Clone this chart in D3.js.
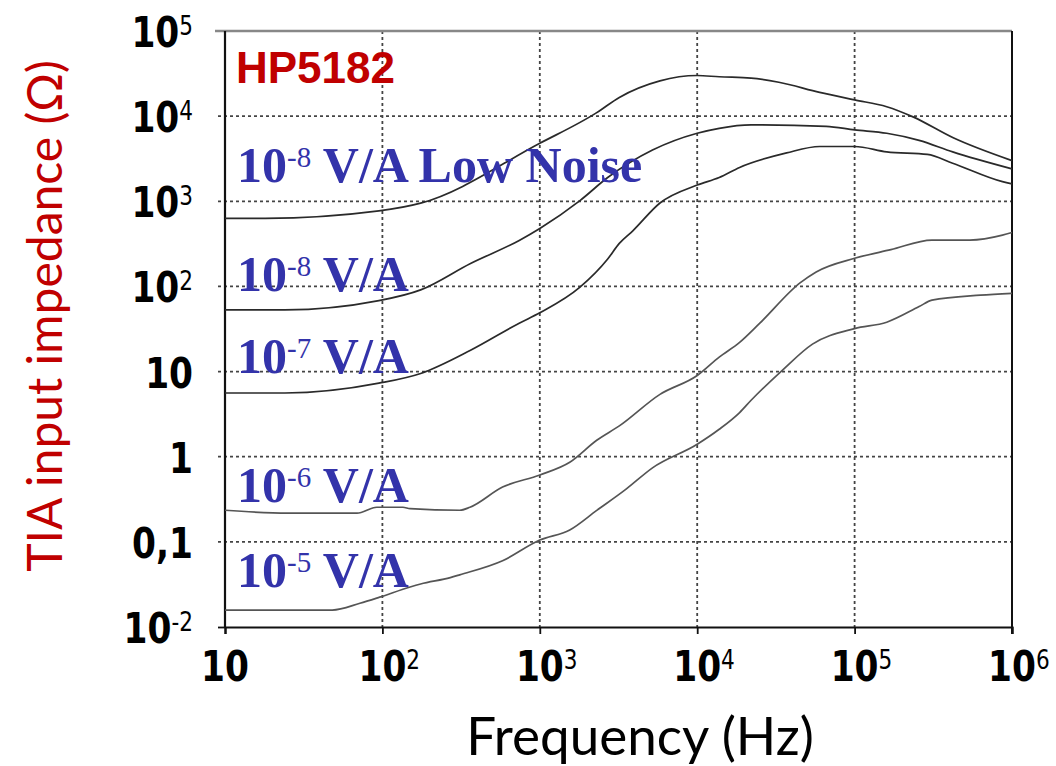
<!DOCTYPE html>
<html>
<head>
<meta charset="utf-8">
<script src="https://cdn.jsdelivr.net/npm/d3@7"></script>
<style>
  html, body { margin: 0; padding: 0; background: #fff; }
  svg { display: block; }
</style>
</head>
<body>
<svg id="chart" width="1056" height="766"></svg>
<script>
// ---------------- data ----------------
const xTickValues = [10, 100, 1000, 10000, 100000, 1000000];
const xTickBase = ["10", "10", "10", "10", "10", "10"];
const xTickExp = ["", "2", "3", "4", "5", "6"];

const yTickValues = [100000, 10000, 1000, 100, 10, 1, 0.1, 0.01];
const yTickBase = ["10", "10", "10", "10", "10", "1", "0,1", "10"];
const yTickExp = ["5", "4", "3", "2", "", "", "", "-2"];

const seriesNames = ["10-8 V/A Low Noise", "10-8 V/A", "10-7 V/A", "10-6 V/A", "10-5 V/A"];
const labelBase = ["10", "10", "10", "10", "10"];
const labelExp = ["-8", "-8", "-7", "-6", "-5"];
const labelRest = [" V/A Low Noise", " V/A", " V/A", " V/A", " V/A"];

const fLowNoise = [10, 18, 95, 175, 1000, 2300, 3200, 5800, 10000, 13800, 22000, 33000, 60000, 100000, 160000, 235000, 420000, 1000000];
const zLowNoise = [630, 630, 770, 950, 4800, 11000, 16600, 26000, 30000, 29000, 28000, 25000, 19000, 15500, 12900, 9800, 5600, 3000];

const fE8 = [10, 24, 95, 175, 363, 740, 1000, 1800, 2700, 5200, 10000, 13800, 22000, 66000, 100000, 160000, 257000, 420000, 1000000];
const zE8 = [53, 53, 68, 91, 186, 347, 480, 1020, 1900, 4000, 6300, 7200, 7900, 7600, 6900, 6300, 5200, 3800, 2400];

const fE7 = [10, 24, 95, 175, 363, 740, 1000, 1800, 2700, 3200, 3900, 5800, 10000, 13800, 18600, 37000, 60000, 100000, 160000, 290000, 420000, 870000, 1000000];
const zE7 = [5.6, 5.6, 7.3, 9.5, 17.8, 37, 49, 98, 210, 320, 450, 955, 1550, 1900, 2500, 3700, 4400, 4400, 3800, 3550, 2800, 1700, 1600];

const fE6 = [10, 25, 69, 92, 135, 150, 310, 360, 580, 1000, 1550, 2300, 3200, 5800, 10000, 13800, 18600, 25000, 45000, 57000, 100000, 170000, 310000, 540000, 870000, 1000000];
const zE6 = [0.235, 0.217, 0.217, 0.255, 0.255, 0.245, 0.235, 0.255, 0.44, 0.61, 0.86, 1.56, 2.3, 5.4, 9.0, 14.8, 22, 37, 110, 148, 214, 270, 350, 350, 400, 430];

const fE5 = [10, 48, 72, 96, 150, 175, 270, 310, 580, 1000, 1550, 2300, 3500, 5200, 10000, 13800, 18600, 22000, 35000, 54000, 100000, 160000, 257000, 310000, 630000, 1000000];
const zE5 = [0.0158, 0.0158, 0.019, 0.0224, 0.0295, 0.032, 0.038, 0.041, 0.060, 0.105, 0.138, 0.234, 0.41, 0.74, 1.4, 2.1, 3.3, 4.6, 10.5, 21, 32, 38, 58, 69, 79, 83];

const curveFreqs = [fLowNoise, fE8, fE7, fE6, fE5];
const curveZs = [zLowNoise, zE8, zE7, zE6, zE5];
const curveColors = ["#2a2a2a", "#2a2a2a", "#2a2a2a", "#555", "#555"];

// ---------------- layout ----------------
const L = 225, R = 1012, T = 31, B = 627;
const svg = d3.select("#chart");

const x = d3.scaleLog().domain([10, 1e6]).range([L, R]);
const y = d3.scaleLog().domain([0.01, 1e5]).range([B, T]);

// grid
const grid = svg.append("g");
grid.selectAll("line.h").data(yTickValues.filter(v => v > 0.01 && v < 1e5)).enter()
  .append("line")
  .attr("x1", L - 7).attr("x2", R)
  .attr("y1", d => y(d)).attr("y2", d => y(d))
  .attr("stroke", "#444").attr("stroke-width", 1.8)
  .attr("stroke-dasharray", "3,3");
grid.selectAll("line.v").data(xTickValues.filter(v => v > 10 && v < 1e6)).enter()
  .append("line")
  .attr("x1", d => x(d)).attr("x2", d => x(d))
  .attr("y1", T).attr("y2", B)
  .attr("stroke", "#444").attr("stroke-width", 1.8)
  .attr("stroke-dasharray", "3,3");

// frame
svg.append("line").attr("x1", L - 10).attr("x2", R).attr("y1", T).attr("y2", T)
  .attr("stroke", "#888").attr("stroke-width", 2.5);
svg.append("line").attr("x1", R).attr("x2", R).attr("y1", T).attr("y2", B + 7)
  .attr("stroke", "#111").attr("stroke-width", 2);

// axes via d3
const xAxis = d3.axisBottom(x).tickValues(xTickValues).tickSize(7).tickFormat("");
const gx = svg.append("g").attr("transform", `translate(0,${B})`).call(xAxis);
gx.select(".domain").attr("stroke", "#111").attr("stroke-width", 2.2);
gx.selectAll(".tick line").attr("stroke", "#111").attr("stroke-width", 1.8);

const yAxis = d3.axisLeft(y).tickValues([0.01]).tickSize(7).tickFormat("");
const gy = svg.append("g").attr("transform", `translate(${L},0)`).call(yAxis);
gy.select(".domain").attr("stroke", "#111").attr("stroke-width", 2.2).attr("d", `M0,${T}V${B}`);
gy.selectAll(".tick line").attr("stroke", "#111").attr("stroke-width", 1.8);

// tick labels
const tickFont = "'DejaVu Sans', Verdana, sans-serif";
function addTickLabel(px, py, base, exp, anchor) {
  const g = svg.append("g").attr("transform", `translate(${px},${py}) scale(0.8,1)`);
  const t = g.append("text").attr("font-family", tickFont).attr("fill", "#000");
  t.append("tspan").attr("font-size", 43).attr("font-weight", "bold").text(base);
  if (exp) {
    t.append("tspan").attr("font-size", 27).attr("font-weight", "normal").attr("dy", -12).text(exp);
  }
  const w = t.node().getComputedTextLength();
  if (anchor === "end") t.attr("x", -w);
  else {
    const bw = t.select("tspan").node().getComputedTextLength();
    t.attr("x", -bw / 2);
  }
}
yTickValues.forEach((v, i) => addTickLabel(193, y(v) + 16, yTickBase[i], yTickExp[i], "end"));
xTickValues.forEach((v, i) => addTickLabel(x(v), 681, xTickBase[i], xTickExp[i], "middle"));

// curves
const line = d3.line().x(d => x(d[0])).y(d => y(d[1])).curve(d3.curveMonotoneX);
curveFreqs.forEach((fs, i) => {
  const pts = fs.map((f, j) => [f, curveZs[i][j]]);
  svg.append("path").datum(pts)
    .attr("d", line)
    .attr("fill", "none")
    .attr("stroke", curveColors[i])
    .attr("stroke-width", 1.7)
    .attr("stroke-linejoin", "round");
});

// series labels
const labelBaselines = [182, 291, 373, 502, 587];
seriesNames.forEach((n, i) => {
  const t = svg.append("text").attr("x", 237).attr("y", labelBaselines[i])
    .attr("font-family", "'Liberation Serif', 'Times New Roman', serif")
    .attr("fill", "#3333aa");
  t.append("tspan").attr("font-size", 50).attr("font-weight", "bold").text(labelBase[i]);
  t.append("tspan").attr("font-size", 29).attr("font-weight", "normal").attr("dy", -15).text(labelExp[i]);
  t.append("tspan").attr("font-size", 50).attr("font-weight", "bold").attr("dy", 15).text(labelRest[i]);
});

// title inside
svg.append("text").attr("x", 236).attr("y", 83)
  .attr("font-family", "'Liberation Sans', Arial, sans-serif")
  .attr("font-weight", "bold").attr("font-size", 44)
  .attr("fill", "#c00000").text("HP5182");

// axis titles
svg.append("text").attr("x", 640).attr("y", 755)
  .attr("text-anchor", "middle")
  .attr("font-family", "Lato, 'Open Sans', sans-serif")
  .attr("font-size", 53).attr("fill", "#000")
  .text("Frequency (Hz)");

svg.append("text")
  .attr("transform", "translate(62,316) rotate(-90)")
  .attr("text-anchor", "middle")
  .attr("font-family", "Lato, 'Open Sans', sans-serif")
  .attr("font-size", 48).attr("fill", "#c00000")
  .text("TIA input impedance (Ω)");
</script>
</body>
</html>
